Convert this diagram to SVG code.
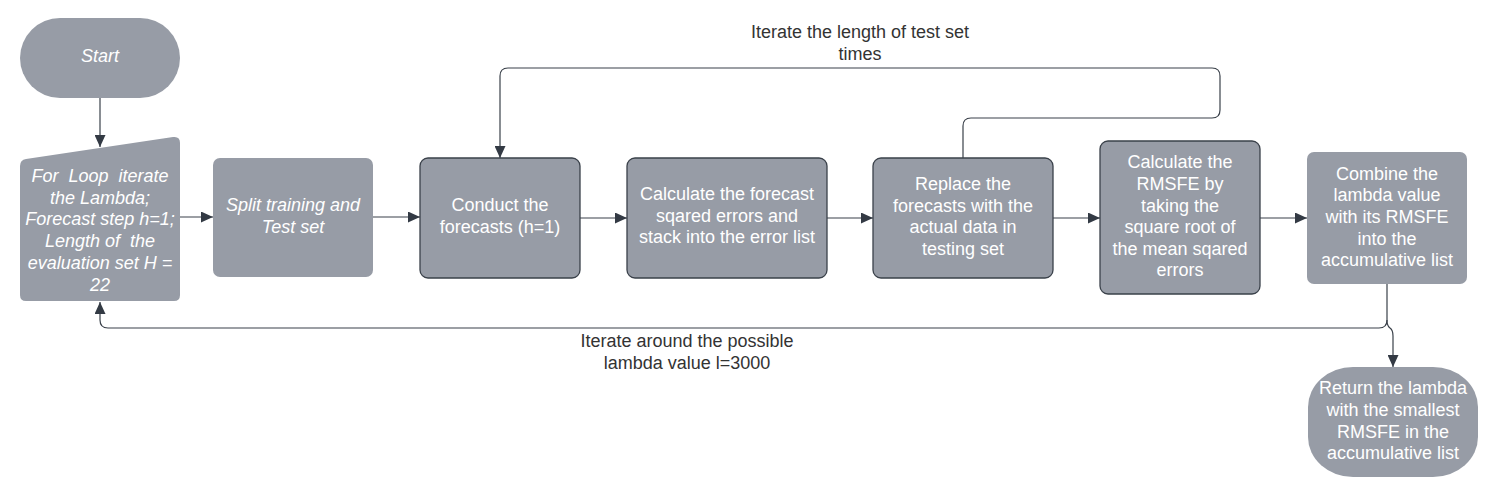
<svg xmlns="http://www.w3.org/2000/svg" width="1487" height="494" viewBox="0 0 1487 494">
<style>
.n{fill:#979ca6}
.b{stroke:#3a414a;stroke-width:1.3}
.t{font-family:"Liberation Sans",Arial,sans-serif;font-size:18px;fill:#ffffff;text-anchor:middle;white-space:pre}
.i{font-style:italic}
.l{font-family:"Liberation Sans",Arial,sans-serif;font-size:18px;fill:#333333;text-anchor:middle}
.c{fill:none;stroke:#3a414a;stroke-width:1.2}
</style>
<defs>
<marker id="ah" markerWidth="13" markerHeight="11" refX="12" refY="5.5" orient="auto" markerUnits="userSpaceOnUse">
<path d="M0,0 L12,5.5 L0,11 Z" fill="#333a44"/>
</marker>
</defs>
<rect width="1487" height="494" fill="#ffffff"/>
<g id="connectors">
<path class="c" d="M100,98 V147" marker-end="url(#ah)"/>
<path class="c" d="M180,217 H213" marker-end="url(#ah)"/>
<path class="c" d="M373,217 H420" marker-end="url(#ah)"/>
<path class="c" d="M580,218 H627" marker-end="url(#ah)"/>
<path class="c" d="M827,218 H873" marker-end="url(#ah)"/>
<path class="c" d="M1053,218 H1100" marker-end="url(#ah)"/>
<path class="c" d="M1260,218 H1307" marker-end="url(#ah)"/>
<path class="c" d="M963,158 V126 Q963,118 971,118 H1212 Q1220,118 1220,110 V76 Q1220,68 1212,68 H508 Q500,68 500,76 V158" marker-end="url(#ah)"/>
<path class="c" d="M1387,284 V320 Q1387,328 1379,328 H108 Q100,328 100,320 V302" marker-end="url(#ah)"/>
<path class="c" d="M1387,320 Q1387,326 1390,328 Q1393,330 1393,336 V367" marker-end="url(#ah)"/>
<text class="l" x="860" y="38">Iterate the length of test set</text>
<text class="l" x="860" y="60">times</text>
<text class="l" x="687" y="347">Iterate around the possible</text>
<text class="l" x="687" y="369">lambda value l=3000</text>
</g>
<g id="start">
<rect class="n" x="20" y="18" width="160" height="80" rx="40"/>
<text class="t i" x="100" y="62">Start</text>
</g>
<g id="forloop">
<path class="n" d="M20,166 Q20,160 26,159 L173,137 Q180,136 180,143 V295 Q180,301 174,301 H26 Q20,301 20,295 Z"/>
<text class="t i" x="100" y="182">For  Loop  iterate</text>
<text class="t i" x="100" y="204">the Lambda;</text>
<text class="t i" x="100" y="225">Forecast step h=1;</text>
<text class="t i" x="100" y="247">Length of  the</text>
<text class="t i" x="100" y="269">evaluation set H =</text>
<text class="t i" x="100" y="291">22</text>
</g>
<g id="split">
<rect class="n" x="213" y="158" width="160" height="119" rx="7"/>
<text class="t i" x="293" y="211">Split training and</text>
<text class="t i" x="293" y="233">Test set</text>
</g>
<g id="conduct">
<rect class="n b" x="420" y="158" width="160" height="120" rx="8"/>
<text class="t" x="500" y="211">Conduct the</text>
<text class="t" x="500" y="233">forecasts (h=1)</text>
</g>
<g id="calcerr">
<rect class="n b" x="627" y="158" width="200" height="120" rx="8"/>
<text class="t" x="727" y="200">Calculate the forecast</text>
<text class="t" x="727" y="222">sqared errors and</text>
<text class="t" x="727" y="243">stack into the error list</text>
</g>
<g id="replace">
<rect class="n b" x="873" y="158" width="180" height="120" rx="8"/>
<text class="t" x="963" y="190">Replace the</text>
<text class="t" x="963" y="212">forecasts with the</text>
<text class="t" x="963" y="233">actual data in</text>
<text class="t" x="963" y="255">testing set</text>
</g>
<g id="rmsfe">
<rect class="n b" x="1100" y="141" width="160" height="153" rx="8"/>
<text class="t" x="1180" y="168">Calculate the</text>
<text class="t" x="1180" y="190">RMSFE by</text>
<text class="t" x="1180" y="212">taking the</text>
<text class="t" x="1180" y="233">square root of</text>
<text class="t" x="1180" y="255">the mean sqared</text>
<text class="t" x="1180" y="276">errors</text>
</g>
<g id="combine">
<rect class="n" x="1307" y="152" width="160" height="132" rx="7"/>
<text class="t" x="1387" y="180">Combine the</text>
<text class="t" x="1387" y="201">lambda value</text>
<text class="t" x="1387" y="223">with its RMSFE</text>
<text class="t" x="1387" y="245">into the</text>
<text class="t" x="1387" y="266">accumulative list</text>
</g>
<g id="return">
<rect class="n" x="1308" y="367" width="170" height="110" rx="45" ry="40"/>
<text class="t" x="1393" y="394">Return the lambda</text>
<text class="t" x="1393" y="416">with the smallest</text>
<text class="t" x="1393" y="438">RMSFE in the</text>
<text class="t" x="1393" y="459">accumulative list</text>
</g>
</svg>
